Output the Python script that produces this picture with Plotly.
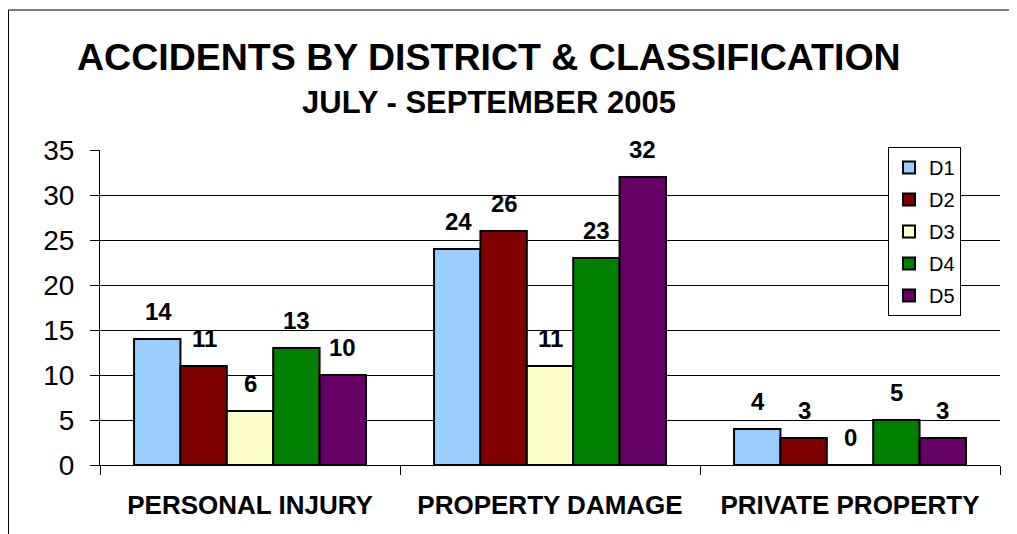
import plotly.graph_objects as go

categories = ["PERSONAL INJURY", "PROPERTY DAMAGE", "PRIVATE PROPERTY"]
series_names = ["D1", "D2", "D3", "D4", "D5"]
d1 = [14, 24, 4]
d2 = [11, 26, 3]
d3 = [6, 11, 0]
d4 = [13, 23, 5]
d5 = [10, 32, 3]
colors = ["#99CCFF", "#800000", "#FFFFCC", "#008000", "#660066"]
y_ticks = [0, 5, 10, 15, 20, 25, 30, 35]

values = [d1, d2, d3, d4, d5]
FONT = "Liberation Sans, Arial, sans-serif"

# page offset of 8px (browser body margin) compensated in margins
ML, MT = 92, 142
PW, PH = 900, 315

def px_x(page_x):
    return (page_x - 100) / PW

def px_y(page_y):
    return (465 - page_y) / PH

fig = go.Figure()
for i, (name, vals) in enumerate(zip(series_names, values)):
    fig.add_trace(go.Bar(
        x=categories, y=vals, name=name,
        marker=dict(color=colors[i], line=dict(color="black", width=2)),
        legendgroup=name,
    ))

# data labels
bar_px = 46
for i, vals in enumerate(values):
    for c, v in zip(categories, vals):
        fig.add_annotation(
            x=c, y=v, xref="x", yref="y", text=f"<b>{v}</b>", showarrow=False,
            xshift=(i - 2) * bar_px, yshift=28, yanchor="middle",
            font=dict(family=FONT, size=24, color="black"),
        )

# titles
fig.add_annotation(x=px_x(489), y=px_y(57), xref="paper", yref="paper",
                   text="<b>ACCIDENTS BY DISTRICT &amp; CLASSIFICATION</b>", showarrow=False,
                   xanchor="center", yanchor="middle",
                   font=dict(family=FONT, size=37.5, color="black"))
fig.add_annotation(x=px_x(489), y=px_y(102), xref="paper", yref="paper",
                   text="<b>JULY - SEPTEMBER 2005</b>", showarrow=False,
                   xanchor="center", yanchor="middle",
                   font=dict(family=FONT, size=31, color="black"))

# outer chart frame
fig.add_shape(type="rect", xref="paper", yref="paper",
              x0=px_x(8.5), x1=px_x(1040),
              y0=px_y(560), y1=px_y(10),
              line=dict(color="black", width=1), fillcolor="rgba(0,0,0,0)", layer="below")

fig.update_layout(
    width=1017, height=534,
    margin=dict(l=ML, r=1017 - ML - PW, t=MT, b=534 - MT - PH),
    barmode="group", bargap=0.227, bargroupgap=0,
    plot_bgcolor="white", paper_bgcolor="white",
    font=dict(family=FONT, color="black"),
    showlegend=True,
    legend=dict(x=px_x(888), y=px_y(147), xanchor="left", yanchor="top",
                bordercolor="black", borderwidth=1, bgcolor="white",
                font=dict(family=FONT, size=20, color="black"),
                tracegroupgap=3, traceorder="grouped", itemwidth=30),
    xaxis=dict(
        type="category", showline=True, linecolor="black", linewidth=1,
        ticks="outside", ticklen=9, tickcolor="black", tickson="boundaries",
        tickfont=dict(family=FONT, size=26, color="black"),
        tickvals=categories, ticktext=[f"<b>{c}</b>" for c in categories],
        showgrid=False, ticklabelstandoff=17,
    ),
    yaxis=dict(
        range=[0, 35], tickvals=y_ticks, showline=True, linecolor="black", linewidth=1,
        ticks="outside", ticklen=9, tickcolor="black",
        showgrid=True, gridcolor="black", gridwidth=1,
        zeroline=True, zerolinecolor="black", zerolinewidth=1,
        tickfont=dict(family=FONT, size=28, color="black"),
        ticklabelstandoff=10,
    ),
)

fig.write_html("out.html")
